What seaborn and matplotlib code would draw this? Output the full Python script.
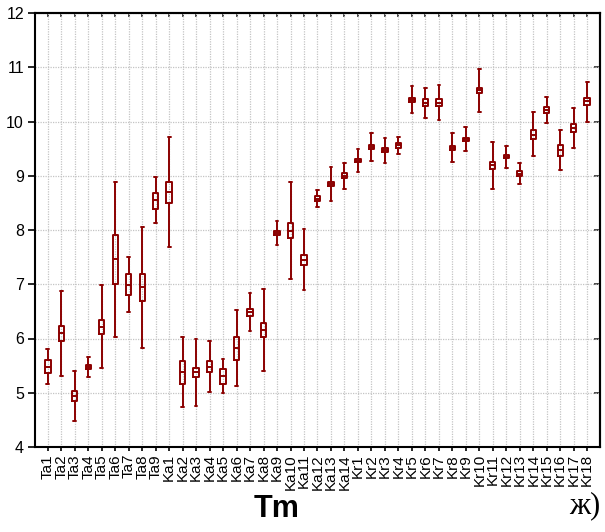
import numpy as np
import pandas as pd
import matplotlib
matplotlib.use("Agg")
import matplotlib.pyplot as plt
import seaborn as sns

# Sample groups along the x axis
groups = (
    [f"Ta{i}" for i in range(1, 10)]
    + [f"Ka{i}" for i in range(1, 15)]
    + [f"Kr{i}" for i in range(1, 19)]
)

# Five-number summary of Tm for every group
whisker_low = [
    5.16, 5.31, 4.48, 5.29, 5.45, 6.03, 6.49, 5.83, 8.12,
    7.68, 4.74, 4.76, 5.01, 5.00, 5.12, 6.13, 5.40, 7.73, 7.09, 6.89, 8.42, 8.54, 8.76,
    9.06, 9.28, 9.24, 9.40, 10.15, 10.07, 10.03, 9.25, 9.46, 10.18, 8.76, 9.14, 8.85,
    9.36, 9.97, 9.11, 9.52, 10.00,
]
box_low = [
    5.37, 5.95, 4.84, 5.43, 6.09, 7.00, 6.80, 6.70, 8.39,
    8.50, 5.17, 5.29, 5.38, 5.17, 5.61, 6.42, 6.02, 7.91, 7.85, 7.36, 8.53, 8.82, 8.95,
    9.25, 9.49, 9.43, 9.52, 10.36, 10.28, 10.29, 9.48, 9.635, 10.53, 9.125, 9.32, 9.00,
    9.67, 10.16, 9.37, 9.81, 10.30,
]
median = [
    5.48, 6.10, 4.94, 5.48, 6.22, 7.46, 6.99, 6.95, 8.55,
    8.70, 5.38, 5.38, 5.48, 5.31, 5.82, 6.49, 6.16, 7.95, 7.99, 7.44, 8.58, 8.85, 9.00,
    9.28, 9.53, 9.47, 9.56, 10.40, 10.35, 10.35, 9.51, 9.67, 10.575, 9.19, 9.35, 9.04,
    9.76, 10.22, 9.475, 9.88, 10.37,
]
box_high = [
    5.60, 6.23, 5.04, 5.52, 6.34, 7.91, 7.18, 7.19, 8.69,
    8.88, 5.58, 5.46, 5.58, 5.44, 6.03, 6.55, 6.29, 7.99, 8.12, 7.53, 8.62, 8.885, 9.045,
    9.31, 9.57, 9.51, 9.60, 10.43, 10.415, 10.42, 9.54, 9.70, 10.62, 9.25, 9.38, 9.08,
    9.85, 10.27, 9.57, 9.95, 10.43,
]
whisker_high = [
    5.81, 6.88, 5.41, 5.65, 6.98, 8.89, 7.50, 8.06, 8.97,
    9.71, 6.02, 6.00, 5.95, 5.62, 6.53, 6.84, 6.91, 8.17, 8.89, 8.01, 8.74, 9.17, 9.23,
    9.49, 9.78, 9.69, 9.71, 10.65, 10.62, 10.68, 9.78, 9.89, 10.97, 9.62, 9.555, 9.235,
    10.17, 10.46, 9.84, 10.24, 10.73,
]

# Long-form table: the five summary points of each group
rows = []
for g, lo, q1, md, q3, hi in zip(groups, whisker_low, box_low, median, box_high, whisker_high):
    for v in (lo, q1, md, q3, hi):
        rows.append((g, v))
df = pd.DataFrame(rows, columns=["group", "Tm"])

sns.set_theme(style="white")
plt.rcParams["font.family"] = ["Liberation Sans", "DejaVu Sans"]

box_color = "#8b0000"

fig = plt.figure(figsize=(6.05, 5.32), dpi=100)
ax = fig.add_axes([35 / 605, 1 - 447 / 532, 565 / 605, 434 / 532])

sns.boxplot(
    data=df, x="group", y="Tm", order=groups,
    whis=(0, 100), width=0.4, fill=False, color=box_color,
    linewidth=1.4, showfliers=False, ax=ax,
)

ax.set_xlim(-0.95, len(groups) - 0.05)
ax.set_ylim(4, 12)
ax.set_yticks(range(4, 13))
ax.set_xlabel("")
ax.set_ylabel("")

ax.grid(True, color="#c4c4c4", linestyle=(0, (1, 1)), linewidth=0.9)
ax.set_axisbelow(True)

for side in ("left", "bottom", "top", "right"):
    ax.spines[side].set_visible(True)
    ax.spines[side].set_color("black")
    ax.spines[side].set_linewidth(1.5)

ax.tick_params(axis="y", direction="out", length=5, width=1.2, pad=3,
               labelsize=11.5, colors="black", left=True)
ax.tick_params(axis="x", direction="out", length=3, width=1.2, pad=2,
               labelsize=11, colors="black", bottom=True, labelrotation=90)

# Inward ticks on the top and right frame
top = ax.secondary_xaxis("top")
top.set_xticks(range(len(groups)))
top.tick_params(direction="in", length=3, width=1.2, labeltop=False)
top.spines["top"].set_linewidth(1.5)
right = ax.secondary_yaxis("right")
right.set_yticks(range(4, 13))
right.tick_params(direction="in", length=4, width=1.2, labelright=False)
right.spines["right"].set_linewidth(1.5)

fig.text(277 / 605, 1 - 509 / 532, "Tm", fontsize=22, fontweight="bold",
         ha="center", va="center", color="black")
fig.text(585 / 605, 1 - 506 / 532, "ж)", fontsize=22, ha="center", va="center",
         family=["Liberation Serif", "DejaVu Serif"], color="black")

fig.savefig("out.png", dpi=100, facecolor="white")
